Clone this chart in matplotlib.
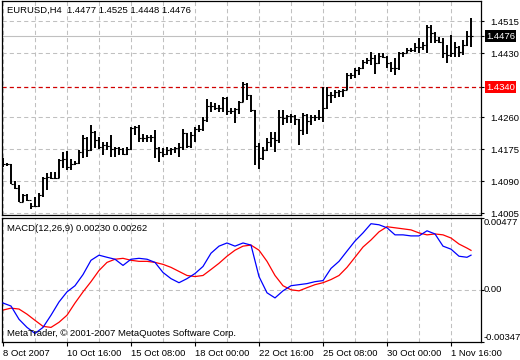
import matplotlib
matplotlib.use("Agg")
import matplotlib.pyplot as plt
import matplotlib.transforms as mtransforms
import numpy as np

plt.rcParams["font.family"] = ["Liberation Sans", "DejaVu Sans"]
plt.rcParams["lines.scale_dashes"] = False

# EURUSD H4 bars
opens = [1.4140, 1.4136, 1.4136, 1.4083, 1.4072, 1.4035, 1.4054, 1.4040, 1.4024, 1.4024,
         1.4054, 1.4099, 1.4101, 1.4099, 1.4099, 1.4147, 1.4149, 1.4128, 1.4136, 1.4139,
         1.4168, 1.4205, 1.4173, 1.4221, 1.4200, 1.4181, 1.4186, 1.4184, 1.4176, 1.4178,
         1.4176, 1.4163, 1.4176, 1.4232, 1.4234, 1.4205, 1.4205, 1.4208, 1.4208, 1.4178,
         1.4168, 1.4163, 1.4173, 1.4176, 1.4178, 1.4181, 1.4218, 1.4184, 1.4213, 1.4229,
         1.4229, 1.4253, 1.4290, 1.4290, 1.4285, 1.4285, 1.4311, 1.4277, 1.4277, 1.4282,
         1.4301, 1.4348, 1.4319, 1.4279, 1.4184, 1.4152, 1.4173, 1.4194, 1.4205, 1.4200,
         1.4261, 1.4258, 1.4263, 1.4263, 1.4255, 1.4226, 1.4266, 1.4250, 1.4261, 1.4261,
         1.4261, 1.4285, 1.4319, 1.4319, 1.4327, 1.4330, 1.4333, 1.4372, 1.4372, 1.4386,
         1.4391, 1.4407, 1.4412, 1.4418, 1.4404, 1.4423, 1.4420, 1.4404, 1.4391, 1.4391,
         1.4431, 1.4431, 1.4439, 1.4439, 1.4447, 1.4447, 1.4452, 1.4500, 1.4484, 1.4465,
         1.4460, 1.4431, 1.4426, 1.4431, 1.4447, 1.4433, 1.4452, 1.4477]
highs = [1.4152, 1.4139, 1.4136, 1.4091, 1.4080, 1.4056, 1.4056, 1.4032, 1.4048, 1.4059,
         1.4101, 1.4112, 1.4115, 1.4115, 1.4149, 1.4168, 1.4170, 1.4149, 1.4144, 1.4173,
         1.4213, 1.4208, 1.4240, 1.4224, 1.4208, 1.4194, 1.4194, 1.4213, 1.4181, 1.4181,
         1.4178, 1.4181, 1.4234, 1.4237, 1.4240, 1.4216, 1.4213, 1.4213, 1.4226, 1.4181,
         1.4178, 1.4181, 1.4178, 1.4181, 1.4192, 1.4229, 1.4218, 1.4221, 1.4234, 1.4240,
         1.4261, 1.4309, 1.4301, 1.4298, 1.4293, 1.4314, 1.4314, 1.4285, 1.4285, 1.4303,
         1.4354, 1.4350, 1.4319, 1.4279, 1.4192, 1.4181, 1.4205, 1.4221, 1.4221, 1.4279,
         1.4279, 1.4266, 1.4269, 1.4266, 1.4255, 1.4271, 1.4269, 1.4266, 1.4266, 1.4279,
         1.4340, 1.4340, 1.4327, 1.4333, 1.4333, 1.4335, 1.4378, 1.4378, 1.4391, 1.4394,
         1.4412, 1.4418, 1.4433, 1.4426, 1.4431, 1.4431, 1.4422, 1.4407, 1.4418, 1.4433,
         1.4433, 1.4444, 1.4444, 1.4457, 1.4471, 1.4460, 1.4505, 1.4505, 1.4486, 1.4473,
         1.4471, 1.4452, 1.4479, 1.4460, 1.4449, 1.4465, 1.4489, 1.4525]
lows = [1.4128, 1.4131, 1.4083, 1.4069, 1.4035, 1.4035, 1.4038, 1.4016, 1.4022, 1.4022,
        1.4048, 1.4067, 1.4096, 1.4096, 1.4099, 1.4125, 1.4120, 1.4120, 1.4133, 1.4136,
        1.4152, 1.4155, 1.4170, 1.4178, 1.4176, 1.4160, 1.4173, 1.4155, 1.4155, 1.4160,
        1.4160, 1.4160, 1.4173, 1.4213, 1.4194, 1.4194, 1.4194, 1.4194, 1.4152, 1.4141,
        1.4155, 1.4160, 1.4160, 1.4165, 1.4155, 1.4173, 1.4178, 1.4178, 1.4194, 1.4221,
        1.4224, 1.4247, 1.4274, 1.4279, 1.4274, 1.4274, 1.4266, 1.4269, 1.4245, 1.4269,
        1.4301, 1.4306, 1.4274, 1.4133, 1.4123, 1.4147, 1.4170, 1.4181, 1.4168, 1.4192,
        1.4240, 1.4245, 1.4245, 1.4240, 1.4186, 1.4213, 1.4216, 1.4240, 1.4250, 1.4253,
        1.4247, 1.4282, 1.4298, 1.4311, 1.4314, 1.4314, 1.4333, 1.4362, 1.4364, 1.4372,
        1.4389, 1.4402, 1.4399, 1.4375, 1.4402, 1.4418, 1.4391, 1.4380, 1.4372, 1.4386,
        1.4420, 1.4431, 1.4433, 1.4433, 1.4431, 1.4439, 1.4431, 1.4457, 1.4457, 1.4457,
        1.4418, 1.4404, 1.4420, 1.4420, 1.4420, 1.4426, 1.4449, 1.4448]
closes = [1.4136, 1.4136, 1.4083, 1.4072, 1.4035, 1.4054, 1.4040, 1.4024, 1.4024, 1.4054,
          1.4099, 1.4101, 1.4099, 1.4099, 1.4147, 1.4149, 1.4128, 1.4136, 1.4139, 1.4168,
          1.4205, 1.4173, 1.4221, 1.4200, 1.4181, 1.4186, 1.4184, 1.4176, 1.4178, 1.4176,
          1.4163, 1.4176, 1.4232, 1.4234, 1.4205, 1.4205, 1.4208, 1.4208, 1.4178, 1.4168,
          1.4163, 1.4173, 1.4176, 1.4178, 1.4181, 1.4218, 1.4184, 1.4213, 1.4229, 1.4229,
          1.4253, 1.4290, 1.4290, 1.4285, 1.4285, 1.4311, 1.4277, 1.4277, 1.4282, 1.4301,
          1.4348, 1.4319, 1.4279, 1.4184, 1.4152, 1.4173, 1.4194, 1.4205, 1.4200, 1.4261,
          1.4258, 1.4263, 1.4263, 1.4255, 1.4226, 1.4266, 1.4250, 1.4261, 1.4261, 1.4261,
          1.4285, 1.4319, 1.4319, 1.4327, 1.4330, 1.4333, 1.4372, 1.4372, 1.4386, 1.4391,
          1.4407, 1.4412, 1.4418, 1.4404, 1.4423, 1.4420, 1.4404, 1.4391, 1.4391, 1.4431,
          1.4431, 1.4439, 1.4439, 1.4447, 1.4447, 1.4452, 1.4500, 1.4484, 1.4465, 1.4460,
          1.4431, 1.4426, 1.4431, 1.4447, 1.4433, 1.4452, 1.4477, 1.4476]

# MACD(12,26,9), read every second bar (+ last bar)
macd_main = [-0.00088, -0.00108, -0.00196, -0.00250, -0.00290, -0.00250, -0.00169, -0.00081, -0.00014, 0.00027,
             0.00101, 0.00196, 0.00230, 0.00216, 0.00203, 0.00162, 0.00203, 0.00209, 0.00203, 0.00182,
             0.00115, 0.00074, 0.00047, 0.00074, 0.00108, 0.00155, 0.00243, 0.00290, 0.00311, 0.00290,
             0.00311, 0.00297, 0.00088, -0.00020, -0.00054, -0.00007, 0.00027, 0.00034, 0.00041, 0.00054,
             0.00061, 0.00142, 0.00189, 0.00257, 0.00324, 0.00378, 0.00439, 0.00432, 0.00412, 0.00365,
             0.00365, 0.00358, 0.00358, 0.00392, 0.00371, 0.00290, 0.00270, 0.00223, 0.00216, 0.00230]
macd_signal = [-0.00135, -0.00122, -0.00128, -0.00162, -0.00203, -0.00243, -0.00250, -0.00216, -0.00169, -0.00088,
               -0.00014, 0.00054, 0.00128, 0.00182, 0.00203, 0.00209, 0.00196, 0.00189, 0.00189, 0.00182,
               0.00169, 0.00149, 0.00122, 0.00095, 0.00088, 0.00095, 0.00135, 0.00176, 0.00223, 0.00263,
               0.00290, 0.00297, 0.00263, 0.00189, 0.00095, 0.00027, 0.00000, -0.00007, 0.00014, 0.00034,
               0.00047, 0.00068, 0.00095, 0.00149, 0.00216, 0.00284, 0.00331, 0.00385, 0.00419, 0.00412,
               0.00405, 0.00398, 0.00378, 0.00365, 0.00371, 0.00365, 0.00344, 0.00304, 0.00277, 0.00262]

price_ticks = [1.4515, 1.4430, 1.4260, 1.4175, 1.4090, 1.4005]
bid_price = 1.4476
level_price = 1.4340
date_labels = ["8 Oct 2007", "10 Oct 16:00", "15 Oct 08:00", "18 Oct 00:00",
               "22 Oct 16:00", "25 Oct 08:00", "30 Oct 00:00", "1 Nov 16:00"]

n = len(closes)
x = np.arange(n)
macd_x = list(range(0, n - 1, 2)) + [n - 1]

W, H = 520, 360
fig = plt.figure(figsize=(W / 100, H / 100), dpi=100)
ax1 = fig.add_axes([2 / W, 1 - 215 / H, 479 / W, 214 / H])
ax2 = fig.add_axes([2 / W, 1 - 342 / H, 479 / W, 124 / H])

grid_kw = dict(color="#c0c0c0", lw=0.75, ls=(0, (3, 2.2)), zorder=0)
fs = 6.8

for ax in (ax1, ax2):
    ax.set_xlim(-0.25, 119.5)
    for xv in range(0, 120, 8):
        ax.axvline(xv, **grid_kw)
    for s in ax.spines.values():
        s.set_color("black")
        s.set_linewidth(0.9)
    ax.yaxis.tick_right()
    ax.tick_params(axis="y", direction="out", length=2.5, width=0.8, pad=4,
                   labelsize=fs, colors="black")

# price pane
ax1.set_ylim(1.40005, 1.4569)
for p in price_ticks:
    ax1.axhline(p, **grid_kw)
ax1.axhline(bid_price, color="#c0c0c0", lw=0.8, zorder=1)
ax1.axhline(level_price, color="#d00000", lw=0.9, ls=(0, (3, 2.2)), zorder=1)
ax1.vlines(x, lows, highs, color="black", lw=1.4, zorder=3)
ax1.hlines(opens, x - 0.55, x, color="black", lw=0.8, zorder=3)
ax1.hlines(closes, x, x + 0.55, color="black", lw=0.8, zorder=3)
ax1.set_xticks([])
ax1.set_yticks(price_ticks + [bid_price, level_price])
ax1.set_yticklabels(["%.4f" % p for p in price_ticks] + ["", ""])

trans1 = mtransforms.blended_transform_factory(ax1.transAxes, ax1.transData)
ax1.text(1.0 + 5 / 479, bid_price, "%.4f" % bid_price, transform=trans1, fontsize=fs,
         color="white", va="center", ha="left",
         bbox=dict(boxstyle="square,pad=0.15", fc="black", ec="none"))
ax1.text(1.0 + 5 / 479, level_price, "%.4f" % level_price, transform=trans1, fontsize=fs,
         color="white", va="center", ha="left",
         bbox=dict(boxstyle="square,pad=0.15", fc="red", ec="none"))

fig.text(7 / W, 1 - 10 / H, "EURUSD,H4  %.4f %.4f %.4f %.4f" % (opens[-1], highs[-1], lows[-1], closes[-1]),
         fontsize=fs, va="center", ha="left")

# MACD pane
macd_top, macd_bot = 0.00477, -0.00347
ax2.set_ylim(macd_bot, macd_top)
ax2.axhline(0, **grid_kw)
ax2.plot(macd_x, macd_signal, color="red", lw=0.9, zorder=2)
ax2.plot(macd_x, macd_main, color="blue", lw=0.9, zorder=3)
ax2.set_yticks([macd_bot, 0, macd_top])
ax2.set_yticklabels([])
trans2 = mtransforms.blended_transform_factory(ax2.transAxes, ax2.transData)
ax2.text(1.0 + 3 / 479, macd_top, "%.5f" % macd_top, transform=trans2, fontsize=fs, va="top")
ax2.text(1.0 + 3 / 479, 0, "0.00", transform=trans2, fontsize=fs, va="center")
ax2.text(1.0 + 3 / 479, macd_bot, "%.5f" % macd_bot, transform=trans2, fontsize=fs, va="bottom")

ax2.text(5 / 479, 1 - 11 / 124, "MACD(12,26,9) %.5f %.5f" % (macd_main[-1], macd_signal[-1]),
         transform=ax2.transAxes, fontsize=fs, va="center", ha="left")
ax2.text(5 / 479, 8 / 124, "MetaTrader, \u00a9 2001-2007 MetaQuotes Software Corp.",
         transform=ax2.transAxes, fontsize=fs, va="center", ha="left", zorder=5)

ax2.set_xticks(range(0, 120, 16))
ax2.set_xticklabels(date_labels, ha="left", fontsize=fs)
ax2.tick_params(axis="x", direction="out", length=3, width=0.8, pad=2)

fig.savefig("out.png", dpi=100)
